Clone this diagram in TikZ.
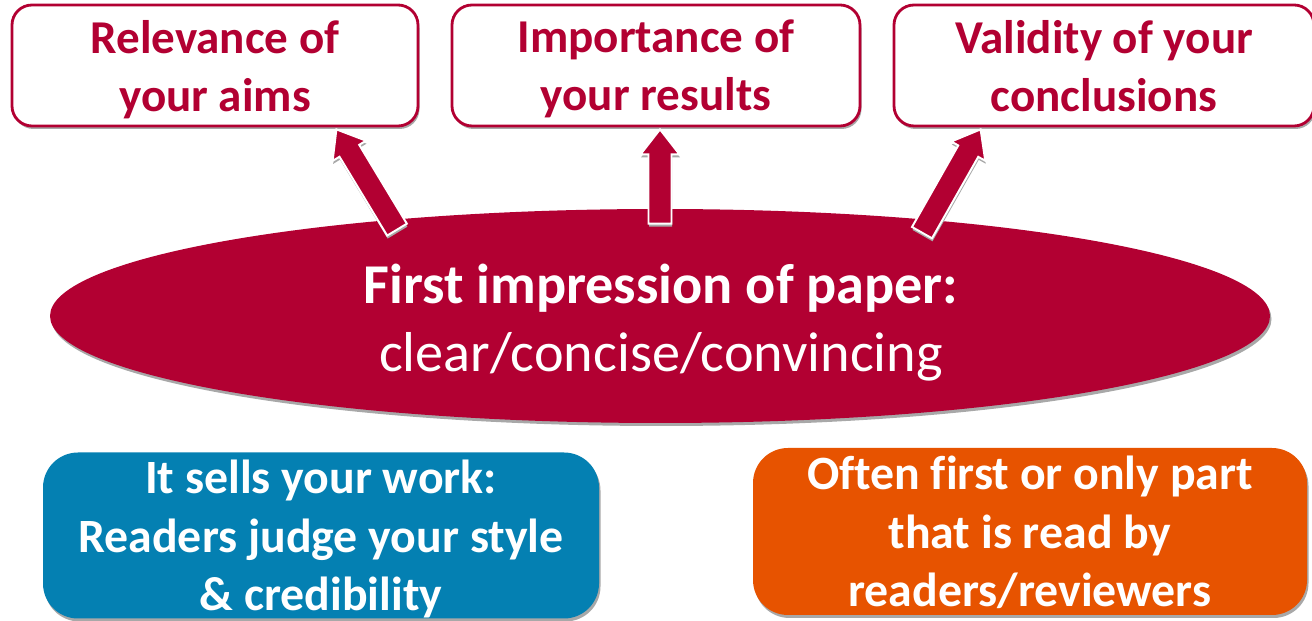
\documentclass[tikz,border=0pt]{standalone}
\usepackage{fontspec}
\setmainfont{Carlito}[Ligatures=NoCommon]
\usetikzlibrary{positioning}
\usetikzlibrary{calc,shapes.geometric,shadows}

\definecolor{paperred}{RGB}{178,0,50}
\definecolor{sellblue}{RGB}{4,128,178}
\definecolor{readorange}{RGB}{231,83,0}
\definecolor{shadowgray}{RGB}{168,168,168}

% block arrow from #1 (foot) to #2 (tip)
\newcommand{\blockarrow}[2]{%
    \path ($(#2)!0.5cm!(#1)$) coordinate (#2-head);
    \draw[pusharrow]
        ($(#1)!0.23cm!90:(#2)$)
        -- ($(#2-head)!0.23cm!90:(#2)$)
        -- ($(#2-head)!0.39cm!90:(#2)$)
        -- (#2)
        -- ($(#2-head)!0.39cm!-90:(#2)$)
        -- ($(#2-head)!0.23cm!-90:(#2)$)
        -- ($(#1)!0.23cm!-90:(#2)$)
        -- cycle;
}

\begin{document}
\begin{tikzpicture}[
    shade/.style={drop shadow={shadow xshift=.03cm, shadow yshift=-.06cm,
        fill=shadowgray, opacity=1}},
    aspect/.style={shade, draw=paperred, line width=1.6pt, fill=white,
        rounded corners=.4cm, minimum width=8.12cm, minimum height=2.42cm,
        text=paperred, align=center, text depth=0pt,
        font=\fontsize{26.8}{33}\selectfont\bfseries},
    impression/.style={ellipse, shade, fill=paperred,
        minimum width=24.4cm, minimum height=4.28cm},
    reason/.style={shade, rounded corners=.7cm, text=white, align=center,
        minimum width=11.12cm, minimum height=3.32cm, text depth=0pt,
        font=\fontsize{27.2}{33.4}\selectfont\bfseries},
    pusharrow/.style={fill=paperred, draw=white, line width=1.1pt,
        drop shadow={shadow xshift=.01cm, shadow yshift=-.06cm,
        fill=shadowgray, opacity=1}}
]
    \useasboundingbox (0,0) rectangle (26.24,12.42);

    % the paper itself
    \node[impression] (first) at (13.2,6.1) {};
    \node[text=white, align=center, font=\fontsize{32}{38.6}\selectfont]
        (firsttext) at (13.22,5.97)
        {\textbf{First impression of paper:}\\clear/concise/convincing};

    % what the reader weighs up
    \node[aspect] (aims) at (4.30,11.11) {Relevance of\\your aims};
    \node[aspect, minimum width=8.16cm] (results) at (13.12,11.11)
        {Importance of\\your results};
    \node[aspect, minimum width=8.40cm] (conclusions) at (22.08,11.11)
        {Validity of your\\conclusions};

    % arrow ends
    \coordinate[below left=.42cm and 5.26cm of first.north] (aimsfoot);
    \coordinate[below=.30cm of first.north] (resultsfoot);
    \coordinate[below right=.48cm and 5.24cm of first.north] (conclusionsfoot);
    \coordinate[below left=.04cm and 1.66cm of aims.south east] (aimstip);
    \coordinate[below right=.04cm and .08cm of results.south] (resultstip);
    \coordinate[below right=.04cm and 1.76cm of conclusions.south west] (conclusionstip);

    \foreach \a in {aims,results,conclusions}
        \blockarrow{\a foot}{\a tip};

    % why it matters
    \node[reason, fill=sellblue] (sells) at (6.42,1.71)
        {It sells your work:\\Readers judge your style\\\& credibility};
    \node[reason, fill=readorange, minimum width=11.08cm, minimum height=3.34cm]
        (readfirst) at (20.60,1.79)
        {Often first or only part\\that is read by\\readers/reviewers};
\end{tikzpicture}
\end{document}
